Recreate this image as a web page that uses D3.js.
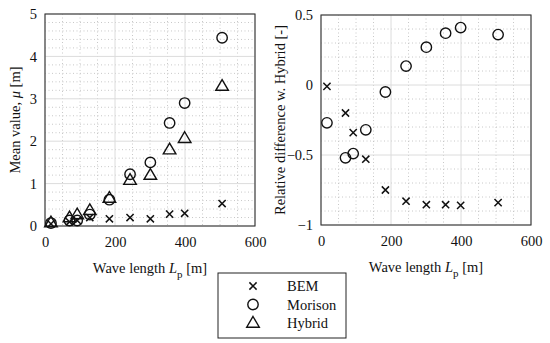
<!DOCTYPE html>
<html>
<head>
<meta charset="utf-8">
<script src="https://cdn.jsdelivr.net/npm/d3@7"></script>
<style>
  body { margin: 0; background: #fff; }
  svg text { font-family: "Times New Roman", "Liberation Serif", "DejaVu Serif", serif; fill: #111; }
</style>
</head>
<body>
<script>
// data
const waveLength = [17, 70, 92, 128, 184, 243, 301, 356, 399, 506];

const meanBEM     = [0.05, 0.10, 0.13, 0.20, 0.17, 0.20, 0.17, 0.28, 0.30, 0.53];
const meanMorison = [0.07, 0.13, 0.13, 0.27, 0.62, 1.22, 1.50, 2.43, 2.90, 4.44];
const meanHybrid  = [0.08, 0.20, 0.27, 0.37, 0.66, 1.08, 1.20, 1.80, 2.07, 3.30];

const relBEM     = [-0.01, -0.20, -0.34, -0.53, -0.75, -0.83, -0.855, -0.855, -0.86, -0.84];
const relMorison = [-0.27, -0.52, -0.49, -0.32, -0.05, 0.135, 0.27, 0.37, 0.41, 0.36];

const xTicks = [0, 200, 400, 600];
const leftTicks = [0, 1, 2, 3, 4, 5];
const rightTicks = [-1, -0.5, 0, 0.5];
const legendNames = ["BEM", "Morison", "Hybrid"];

const serif = '"Times New Roman", "Liberation Serif", "DejaVu Serif", serif';

var width = 550, height = 343;

var svg = d3.select("body").append("svg")
    .attr("width", width)
    .attr("height", height);

// draws one marker shape at (cx, cy)
function marker(g, kind, cx, cy) {
    if (kind == "BEM") {
        var s = 3.6;
        g.append("path")
            .attr("d", "M" + (cx - s) + "," + (cy - s) + "L" + (cx + s) + "," + (cy + s) +
                       "M" + (cx - s) + "," + (cy + s) + "L" + (cx + s) + "," + (cy - s))
            .attr("stroke", "#111").attr("stroke-width", 1.5).attr("fill", "none");
    } else if (kind == "Morison") {
        g.append("circle").attr("cx", cx).attr("cy", cy).attr("r", 5.2)
            .attr("stroke", "#111").attr("stroke-width", 1.4).attr("fill", "none");
    } else {
        g.append("path")
            .attr("d", "M" + cx + "," + (cy - 6.5) + "L" + (cx + 6.3) + "," + (cy + 4.2) +
                       "L" + (cx - 6.3) + "," + (cy + 4.2) + "Z")
            .attr("stroke", "#111").attr("stroke-width", 1.4).attr("fill", "none");
    }
}

function panel(left, right, top, bottom, yDomain, yTicks, yMinorStep, yLabel, yLabelX, series, fmt) {
    var x = d3.scaleLinear().domain([0, 600]).range([left, right]);
    var y = d3.scaleLinear().domain(yDomain).range([bottom, top]);
    var g = svg.append("g");

    // minor grid, dotted
    var xMinor = d3.range(0, 600.1, 50).filter(v => v % 200 != 0);
    var yMinor = d3.range(yDomain[0], yDomain[1] + 1e-6, yMinorStep)
        .filter(v => !yTicks.some(t => Math.abs(t - v) < 1e-6));
    g.selectAll(".xminor").data(xMinor).enter().append("line")
        .attr("x1", d => x(d)).attr("x2", d => x(d))
        .attr("y1", top).attr("y2", bottom)
        .attr("stroke", "#c8c8c8").attr("stroke-dasharray", "1,2.5");
    g.selectAll(".yminor").data(yMinor).enter().append("line")
        .attr("y1", d => y(d)).attr("y2", d => y(d))
        .attr("x1", left).attr("x2", right)
        .attr("stroke", "#c8c8c8").attr("stroke-dasharray", "1,2.5");

    // major grid
    g.selectAll(".xmajor").data(xTicks).enter().append("line")
        .attr("x1", d => x(d)).attr("x2", d => x(d))
        .attr("y1", top).attr("y2", bottom)
        .attr("stroke", "#dcdcdc");
    g.selectAll(".ymajor").data(yTicks).enter().append("line")
        .attr("y1", d => y(d)).attr("y2", d => y(d))
        .attr("x1", left).attr("x2", right)
        .attr("stroke", "#dcdcdc");

    // axes
    var xAxis = d3.axisBottom(x).tickValues(xTicks).tickSize(0).tickPadding(11);
    var yAxis = d3.axisLeft(y).tickValues(yTicks).tickSize(0).tickPadding(8).tickFormat(fmt);
    var gx = g.append("g").attr("transform", "translate(0," + bottom + ")").call(xAxis);
    var gy = g.append("g").attr("transform", "translate(" + left + ",0)").call(yAxis);
    [gx, gy].forEach(a => {
        a.attr("font-family", serif).attr("font-size", 14.5);
        a.select(".domain").remove();
        a.selectAll("text").attr("fill", "#111");
    });

    g.append("rect")
        .attr("x", left).attr("y", top)
        .attr("width", right - left).attr("height", bottom - top)
        .attr("fill", "none").attr("stroke", "#333").attr("stroke-width", 1.1);

    // x label
    var xl = g.append("text")
        .attr("x", (left + right) / 2).attr("y", bottom + 47)
        .attr("text-anchor", "middle").attr("font-size", 14.5);
    xl.append("tspan").text("Wave length ");
    xl.append("tspan").attr("font-style", "italic").text("L");
    xl.append("tspan").attr("dy", 5).attr("font-size", 11).text("p");
    xl.append("tspan").attr("dy", -5).text(" [m]");

    // y label
    var yl = g.append("text")
        .attr("transform", "translate(" + yLabelX + "," + ((top + bottom) / 2) + ") rotate(-90)")
        .attr("text-anchor", "middle").attr("font-size", 14.5);
    yLabel(yl);

    // points
    series.forEach(s => {
        s.values.forEach((v, i) => marker(g, s.name, x(waveLength[i]), y(v)));
    });
}

panel(45, 255, 14, 226, [0, 5], leftTicks, 0.2,
    t => {
        t.append("tspan").text("Mean value, ");
        t.append("tspan").attr("font-style", "italic").text("μ");
        t.append("tspan").text(" [m]");
    },
    20,
    [{name: "BEM", values: meanBEM}, {name: "Morison", values: meanMorison}, {name: "Hybrid", values: meanHybrid}],
    d3.format("d"));

panel(321, 531, 15, 225, [-1, 0.5], rightTicks, 0.1,
    t => t.text("Relative difference w. Hybrid [-]"),
    285,
    [{name: "BEM", values: relBEM}, {name: "Morison", values: relMorison}],
    d => (d == 0 ? "0" : d3.format("")(d)));

// legend
var lg = svg.append("g");
lg.append("rect")
    .attr("x", 218).attr("y", 273).attr("width", 128).attr("height", 65)
    .attr("fill", "#fff").attr("stroke", "#222").attr("stroke-width", 1);
legendNames.forEach((n, i) => {
    var cy = 286 + i * 18.5;
    marker(lg, n, 253, cy);
    lg.append("text").attr("x", 287).attr("y", cy + 5)
        .attr("font-size", 14.5).text(n);
});
</script>
</body>
</html>
